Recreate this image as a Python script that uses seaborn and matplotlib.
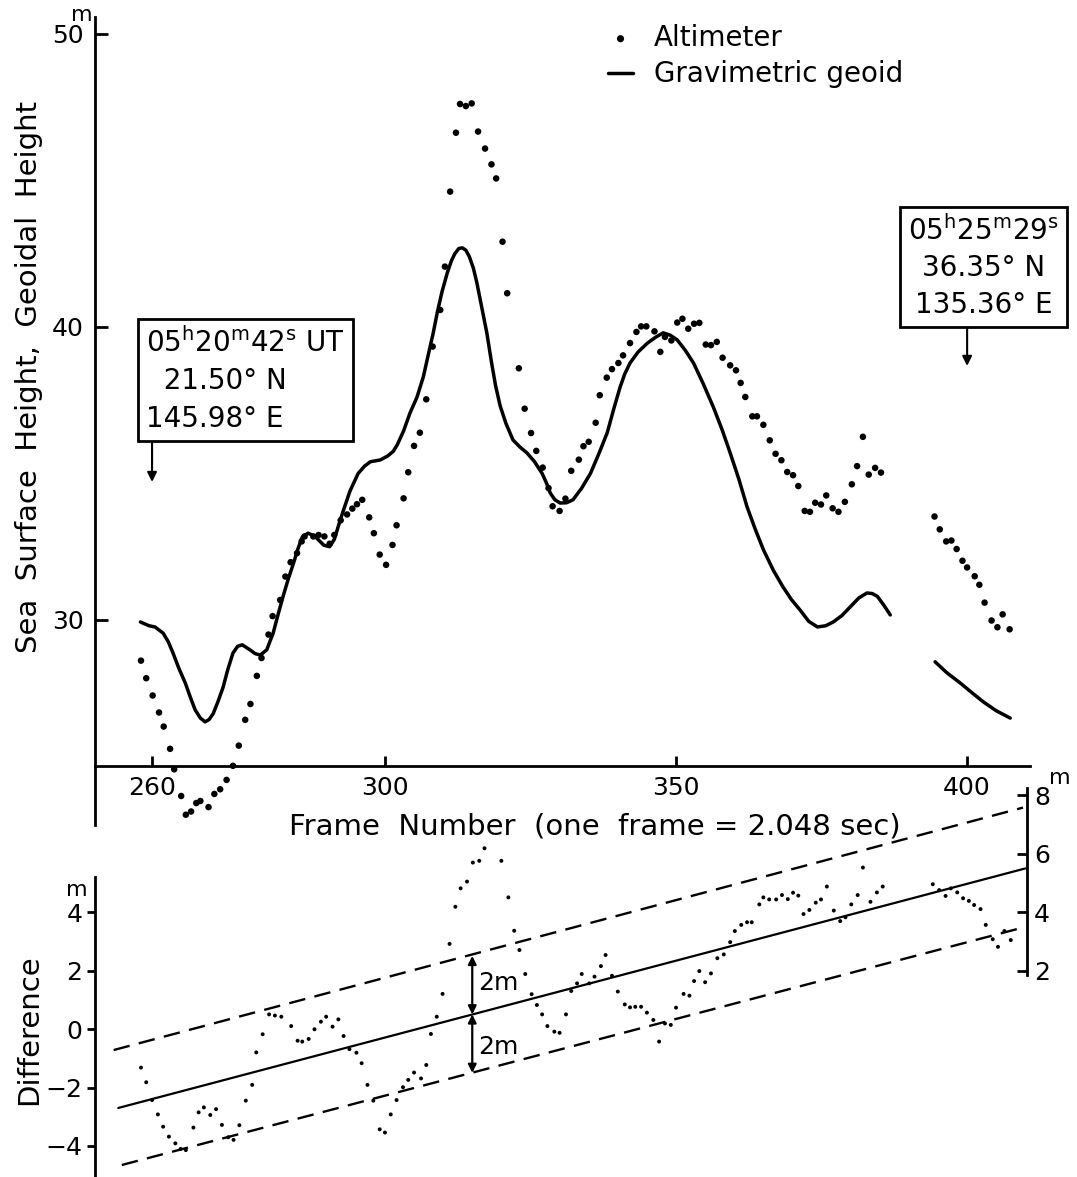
import matplotlib
matplotlib.use("Agg")
import matplotlib.pyplot as plt
import seaborn as sns
import pandas as pd

# ---------------- data ----------------
alt_frame = [258.1, 259.0, 260.1, 261.2, 262.0, 263.1, 263.8, 265.0, 265.8, 266.7,
             267.6, 268.3, 269.7, 270.7, 271.7, 272.8, 273.9, 274.9, 276.0, 276.9,
             278.0, 278.8, 280.0, 280.7, 282.0, 282.9, 283.8, 284.9, 285.7, 286.2,
             287.7, 288.6, 289.6, 290.5, 291.3, 292.4, 293.5, 294.4, 295.2, 296.1,
             297.3, 298.1, 299.1, 300.2, 301.3, 302.0, 303.2, 304.0, 305.0, 306.0,
             307.1, 308.2, 309.5, 310.3, 311.2, 312.2, 312.9, 313.9, 314.9, 316.0,
             317.2, 318.3, 319.1, 320.2, 321.0, 323.0, 324.0, 325.1, 326.0, 327.1,
             328.1, 328.8, 330.0, 331.0, 332.0, 333.3, 334.1, 335.0, 336.2, 336.9,
             338.1, 339.0, 340.1, 340.9, 342.1, 343.2, 344.0, 344.9, 346.3, 347.3,
             348.1, 349.2, 350.2, 351.1, 352.1, 353.1, 354.0, 355.1, 356.0, 357.0,
             358.0, 359.3, 360.3, 361.1, 361.9, 363.1, 363.9, 365.0, 366.1, 367.1,
             368.1, 369.1, 370.1, 371.0, 372.1, 373.0, 373.9, 374.9, 375.8, 376.9,
             377.9, 379.0, 380.2, 381.1, 382.1, 383.1, 384.2, 385.2,
             394.4, 395.3, 396.4, 397.3, 398.2, 399.2, 400.0, 401.3, 402.1, 403.0,
             404.2, 405.2, 406.1, 407.3]
alt_height = [28.61, 28.01, 27.42, 26.84, 26.36, 25.60, 24.90, 23.99, 23.35, 23.46,
              23.75, 23.82, 23.61, 24.06, 24.22, 24.54, 25.02, 25.71, 26.59, 27.13,
              28.09, 28.70, 29.50, 30.13, 30.68, 31.48, 31.97, 32.28, 32.68, 32.85,
              32.85, 32.90, 32.85, 32.60, 32.90, 33.40, 33.60, 33.80, 33.95, 34.10,
              33.50, 32.96, 32.23, 31.88, 32.56, 33.23, 34.15, 35.04, 35.94, 36.39,
              37.53, 39.33, 40.58, 42.06, 44.62, 46.63, 47.61, 47.54, 47.63, 46.67,
              46.09, 45.55, 45.07, 42.91, 41.15, 38.59, 37.21, 36.38, 35.77, 35.20,
              34.50, 33.88, 33.72, 34.14, 35.09, 35.47, 35.93, 36.08, 36.73, 37.67,
              38.27, 38.56, 38.77, 39.03, 39.45, 39.83, 40.02, 40.02, 39.85, 39.15,
              39.66, 39.54, 40.15, 40.28, 39.94, 40.11, 40.14, 39.40, 39.38, 39.49,
              38.95, 38.69, 38.52, 38.09, 37.61, 36.95, 36.95, 36.66, 36.13, 35.67,
              35.45, 35.05, 34.94, 34.57, 33.72, 33.69, 34.00, 33.94, 34.25, 33.81,
              33.69, 34.03, 34.63, 35.25, 36.25, 34.96, 35.19, 35.03,
              33.53, 33.09, 32.68, 32.71, 32.42, 32.02, 31.79, 31.49, 31.20, 30.59,
              29.98, 29.75, 30.19, 29.68]

geoid_a_frame = [258.0, 259.5, 260.5, 261.9, 262.8, 263.6, 264.6, 265.7, 266.6, 267.4,
                 268.3, 269.1, 269.8, 270.5, 271.3, 272.2, 273.0, 273.9, 274.7, 275.5,
                 276.8, 277.7, 278.6, 279.7, 280.8, 281.6, 282.5, 283.4, 284.3, 285.1,
                 285.8, 286.8, 288.0, 289.5, 290.5, 291.3, 292.0, 292.8, 294.0, 295.4,
                 296.5, 297.5, 299.2, 300.5, 301.4, 302.1, 303.2, 304.3, 305.5, 306.6,
                 307.5, 308.3, 309.0, 309.8, 310.7, 311.4, 312.0, 312.7, 313.3, 313.9,
                 314.5, 315.2, 315.8, 316.6, 317.5, 318.3, 319.0, 319.8, 320.8, 322.0,
                 323.2, 324.4, 325.7, 327.0, 327.8, 328.4, 329.2, 330.1, 331.2, 332.3,
                 333.8, 335.3, 336.8, 338.2, 339.3, 340.4, 341.2, 342.1, 343.5, 345.1,
                 346.5, 347.8, 349.0, 350.2, 351.6, 353.0, 354.7, 356.4, 357.9, 359.3,
                 360.8, 362.2, 363.6, 365.0, 366.7, 368.3, 369.8, 371.3, 372.8, 374.3,
                 375.7, 377.0, 378.5, 379.9, 381.4, 382.8, 383.7, 384.6, 385.7, 386.8]
geoid_a_height = [29.93, 29.80, 29.76, 29.55, 29.25, 28.87, 28.35, 27.85, 27.35, 26.93,
                  26.65, 26.52, 26.60, 26.80, 27.20, 27.70, 28.30, 28.87, 29.10, 29.15,
                  28.98, 28.85, 28.80, 28.98, 29.55, 30.15, 30.80, 31.40, 31.94, 32.45,
                  32.83, 32.96, 32.85, 32.55, 32.50, 32.75, 33.20, 33.70, 34.40, 35.00,
                  35.25, 35.40, 35.46, 35.60, 35.75, 35.97, 36.45, 37.06, 37.60, 38.30,
                  39.10, 39.80, 40.50, 41.20, 41.84, 42.25, 42.50, 42.68, 42.70, 42.62,
                  42.40, 42.00, 41.50, 40.70, 39.80, 38.80, 38.00, 37.30, 36.70, 36.14,
                  35.90, 35.70, 35.40, 35.00, 34.65, 34.33, 34.10, 33.99, 34.00, 34.10,
                  34.50, 35.00, 35.70, 36.40, 37.20, 37.95, 38.40, 38.77, 39.15, 39.45,
                  39.65, 39.80, 39.72, 39.56, 39.20, 38.77, 38.05, 37.27, 36.50, 35.70,
                  34.80, 33.86, 33.10, 32.40, 31.70, 31.15, 30.70, 30.34, 29.95, 29.76,
                  29.80, 29.93, 30.15, 30.44, 30.75, 30.92, 30.90, 30.80, 30.50, 30.17]
geoid_b_frame = [394.5, 396.5, 398.8, 400.8, 402.8, 405.0, 407.4]
geoid_b_height = [28.57, 28.20, 27.85, 27.52, 27.20, 26.90, 26.65]

diff_frame = [258.1, 259.0, 260.0, 261.0, 261.9, 262.9, 264.0, 264.9, 265.8, 267.1,
              268.0, 268.9, 270.0, 271.0, 272.0, 273.1, 274.0, 275.0, 276.1, 277.2,
              277.9, 279.0, 280.1, 281.1, 282.2, 283.9, 285.0, 285.8, 286.9, 287.9,
              289.0, 289.9, 291.0, 292.0, 292.9, 293.9, 295.1, 296.0, 297.0, 298.0,
              299.1, 300.0, 301.0, 302.0, 303.1, 304.0, 305.0, 306.2, 307.1, 307.9,
              308.9, 309.9, 311.1, 312.1, 313.0, 314.1, 315.1, 316.2, 317.1, 320.0,
              321.2, 322.2, 323.1, 324.1, 325.2, 326.1, 327.0, 327.9, 329.1, 330.0,
              331.1, 332.0, 333.0, 333.8, 335.1, 336.0, 337.1, 337.9, 339.0, 340.0,
              341.2, 342.1, 343.0, 344.0, 345.0, 346.1, 347.1, 348.1, 349.1, 350.0,
              351.3, 352.3, 353.1, 354.0, 355.0, 356.0, 357.1, 358.2, 359.3, 360.1,
              361.2, 362.2, 363.0, 364.3, 365.0, 366.0, 367.2, 368.2, 369.2, 370.1,
              371.0, 371.9, 372.9, 374.0, 374.9, 375.9, 377.1, 378.2, 379.1, 380.1,
              381.2, 382.1, 383.4, 384.5, 385.5,
              394.1, 395.2, 396.3, 397.2, 398.3, 399.3, 400.3, 401.2, 402.3, 403.2,
              404.4, 405.3, 406.4, 407.5]
diff_value = [-1.32, -1.82, -2.43, -2.92, -3.34, -3.68, -3.91, -4.10, -4.14, -3.37,
              -2.85, -2.68, -2.94, -2.74, -3.28, -3.70, -3.79, -3.29, -2.45, -1.91,
              -0.80, -0.18, 0.50, 0.46, 0.42, 0.10, -0.40, -0.43, -0.34, -0.01,
              0.25, 0.42, 0.08, 0.33, -0.24, -0.69, -0.81, -1.17, -1.91, -2.45,
              -3.43, -3.54, -2.92, -2.43, -1.99, -1.74, -1.49, -1.69, -1.23, -0.17,
              0.42, 1.20, 2.91, 4.18, 4.81, 5.04, 5.69, 5.75, 6.18, 5.75,
              4.50, 3.36, 2.70, 1.88, 1.19, 0.82, 0.50, 0.10, -0.09, -0.13,
              0.50, 1.30, 1.56, 1.88, 1.56, 1.79, 2.15, 2.53, 1.82, 1.28,
              0.84, 0.74, 0.76, 0.76, 0.56, 0.31, -0.43, 0.19, 0.14, 0.73,
              1.20, 1.14, 1.64, 1.98, 1.60, 1.90, 2.42, 2.55, 2.97, 3.35,
              3.56, 3.65, 3.65, 4.26, 4.50, 4.43, 4.43, 4.58, 4.44, 4.66,
              4.56, 3.93, 4.07, 4.32, 4.43, 4.87, 4.05, 3.69, 3.82, 4.26,
              4.58, 5.52, 4.35, 4.67, 4.87,
              4.95, 4.75, 4.55, 4.81, 4.67, 4.47, 4.38, 4.24, 4.10, 3.56,
              3.07, 2.81, 3.35, 3.04]

trend_frame = [254.2, 410.0]
trend_value = [-2.70, 5.49]
band_upper_frame = [253.4, 409.6]
band_upper_value = [-0.72, 7.57]
band_lower_frame = [254.8, 409.6]
band_lower_value = [-4.65, 3.47]

top_yticks = [30, 40, 50]
top_xticks = [260, 300, 350, 400]
diff_left_ticks = [-4, -2, 0, 2, 4]
diff_right_ticks = [2, 4, 6, 8]

# ---------------- styling ----------------
sns.set_theme(style="ticks")
plt.rcParams["font.family"] = ["DejaVu Sans"]
plt.rcParams["mathtext.fontset"] = "dejavusans"
for k in ("axes.edgecolor", "axes.labelcolor", "xtick.color", "ytick.color", "text.color"):
    plt.rcParams[k] = "black"

W, H = 1077, 1177
fig = plt.figure(figsize=(W / 100, H / 100), dpi=100)
fig.patch.set_facecolor("white")
ax = fig.add_axes([95 / W, 1 - 825 / H, 935 / W, 808 / H])
axd = fig.add_axes([95 / W, 0, 935 / W, 389 / H])
for a in (ax, axd):
    a.patch.set_alpha(0)

FS = 18
LFS = 21

# ---------------- top panel ----------------
alt_df = pd.DataFrame({"frame": alt_frame, "height": alt_height})
sns.scatterplot(data=alt_df, x="frame", y="height", ax=ax, s=22, color="black",
                edgecolor="none", label="Altimeter", zorder=3)
ga = pd.DataFrame({"frame": geoid_a_frame, "height": geoid_a_height})
gb = pd.DataFrame({"frame": geoid_b_frame, "height": geoid_b_height})
sns.lineplot(data=ga, x="frame", y="height", ax=ax, color="black", lw=2.5,
             sort=False, estimator=None, label="Gravimetric geoid")
sns.lineplot(data=gb, x="frame", y="height", ax=ax, color="black", lw=2.5,
             sort=False, estimator=None)

ax.set_xlim(250.2, 410.8)
ax.set_ylim(23.0, 50.58)
ax.spines[["top", "right"]].set_visible(False)
ax.spines["bottom"].set_position(("data", 25))
for s in ("left", "bottom"):
    ax.spines[s].set_linewidth(2)
ax.set_xticks(top_xticks)
ax.set_yticks(top_yticks)
ax.tick_params(axis="both", direction="in", width=2, labelsize=FS)
ax.tick_params(axis="y", length=9, pad=8)
ax.tick_params(axis="x", length=7, pad=7)
ax.set_xlabel("Frame  Number  (one  frame = 2.048 sec)", fontsize=LFS)
ax.xaxis.set_label_coords(0.535, 0.016)
ax.set_ylabel("Sea  Surface  Height,  Geoidal  Height", fontsize=LFS)
ax.yaxis.set_label_coords(-0.056, 0.554)

h, l = ax.get_legend_handles_labels()
ax.legend(h, l, loc="upper left", bbox_to_anchor=(608 / W, 1 - 24 / H),
          bbox_transform=fig.transFigure, frameon=False, fontsize=20,
          handlelength=0.9, handletextpad=0.75, labelspacing=0.3,
          borderpad=0.0, borderaxespad=0.0, markerscale=1.1)

box_kw = dict(boxstyle="square,pad=0.3", fc="white", ec="black", lw=2)
ax.text(276.0, 38.19, "05$^{\\rm h}$20$^{\\rm m}$42$^{\\rm s}$ UT\n  21.50° N\n145.98° E",
        ha="center", va="center", multialignment="left", fontsize=20,
        linespacing=1.42, bbox=box_kw, zorder=5)
ax.text(402.8, 42.05, "05$^{\\rm h}$25$^{\\rm m}$29$^{\\rm s}$\n36.35° N\n135.36° E",
        ha="center", va="center", multialignment="center", fontsize=20,
        linespacing=1.38, bbox=box_kw, zorder=5, clip_on=False)
pointer_kw = dict(arrowstyle="-|>", color="black", lw=1.5, shrinkA=0, shrinkB=0,
                  mutation_scale=14)
ax.annotate("", xy=(260, 34.71), xytext=(260, 36.07), arrowprops=pointer_kw)
ax.annotate("", xy=(400, 38.67), xytext=(400, 40.07), arrowprops=pointer_kw)

# ---------------- bottom panel ----------------
diff_df = pd.DataFrame({"frame": diff_frame, "diff": diff_value})
sns.scatterplot(data=diff_df, x="frame", y="diff", ax=axd, s=8, color="black",
                edgecolor="none", zorder=3)
sns.lineplot(x=trend_frame, y=trend_value, ax=axd, color="black", lw=1.6)
sns.lineplot(x=band_upper_frame, y=band_upper_value, ax=axd, color="black", lw=1.7,
             linestyle=(0, (7, 4)))
sns.lineplot(x=band_lower_frame, y=band_lower_value, ax=axd, color="black", lw=1.7,
             linestyle=(0, (7, 4)))

axd.set_xlim(250.2, 410.8)
axd.set_ylim(-5.06, 8.24)
axd.spines[["top", "bottom", "right"]].set_visible(False)
axd.spines["left"].set_bounds(-5.06, 5.2)
axd.spines["left"].set_linewidth(2)
axd.set_xticks([])
axd.set_xlabel("")
axd.set_yticks(diff_left_ticks)
axd.tick_params(axis="y", direction="out", length=6, width=2, labelsize=FS, pad=3)
axd.set_ylabel("Difference", fontsize=LFS)
axd.yaxis.set_label_coords(-0.056, 0.378)

axr = axd.twinx()
axr.set_ylim(axd.get_ylim())
axr.patch.set_alpha(0)
axr.spines[["top", "bottom", "left"]].set_visible(False)
axr.spines["right"].set_position(("data", 410.3))
axr.spines["right"].set_bounds(1.85, 8.24)
axr.spines["right"].set_linewidth(2)
axr.set_yticks(diff_right_ticks)
axr.tick_params(axis="y", direction="in", length=7, width=2, labelsize=FS, pad=5)

arrow_kw = dict(arrowstyle="<|-|>", color="black", lw=1.6, shrinkA=0, shrinkB=0,
                mutation_scale=12)
axd.annotate("", xy=(315.0, 2.50), xytext=(315.0, 0.50), arrowprops=arrow_kw)
axd.annotate("", xy=(315.0, 0.50), xytext=(315.0, -1.50), arrowprops=arrow_kw)
axd.text(316.0, 1.57, "2m", fontsize=FS, va="center", ha="left")
axd.text(316.0, -0.62, "2m", fontsize=FS, va="center", ha="left")

# unit labels
fig.text(82 / W, 1 - 15 / H, "m", fontsize=16, ha="center", va="center")
fig.text(77 / W, 1 - 890 / H, "m", fontsize=16, ha="center", va="center")
fig.text(1060 / W, 1 - 778 / H, "m", fontsize=16, ha="center", va="center")

fig.savefig("out.png", dpi=100, facecolor="white")
